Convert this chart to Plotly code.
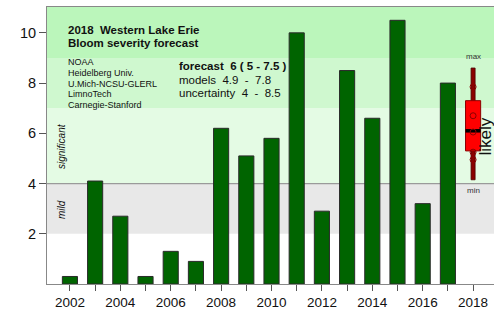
import plotly.graph_objects as go

years = list(range(2002, 2018))
severity = [0.3, 4.1, 2.7, 0.3, 1.3, 0.9, 6.2, 5.1, 5.8, 10.0, 2.9, 8.5, 6.6, 10.5, 3.2, 8.0]

forecast_year = 2018
box_q1, box_median, box_q3 = 5.3, 6.1, 7.3
whisker_low, whisker_high = 4.15, 8.6
model_values = [7.85, 6.7, 6.05, 5.25, 4.95]

tick_years = list(range(2002, 2019))
tick_labels = [str(y) if y % 2 == 0 else "" for y in tick_years]
y_ticks = [2, 4, 6, 8, 10]

FONT = "Liberation Sans, Arial, sans-serif"

fig = go.Figure()

# bands
bands = [(0, 2, "#ffffff"), (2, 4, "#e8e8e8"), (4, 7, "#e4fbe4"), (7, 9, "#cff8cf"), (9, 11.03, "#bbf6bb")]
for y0, y1, c in bands:
    fig.add_shape(type="rect", xref="paper", yref="y", x0=0, x1=1, y0=y0, y1=y1,
                  fillcolor=c, line_width=0, layer="below")
fig.add_shape(type="line", xref="paper", yref="y", x0=0, x1=1, y0=4, y1=4,
              line=dict(color="#9a9a9a", width=1.2), layer="below")

fig.add_trace(go.Bar(x=years, y=severity, width=0.6,
                     marker=dict(color="#006400", line=dict(color="#2a2a2a", width=1)),
                     showlegend=False, hoverinfo="skip"))

# whisker
fig.add_trace(go.Bar(x=[forecast_year], base=[whisker_low], y=[whisker_high - whisker_low], width=0.16,
                     marker=dict(color="#8b0000", line=dict(color="#4a0000", width=0.8)),
                     showlegend=False, hoverinfo="skip"))
# box
fig.add_trace(go.Bar(x=[forecast_year], base=[box_q1], y=[box_q3 - box_q1], width=0.6,
                     marker=dict(color="#ff0000", line=dict(color="#8b0000", width=1)),
                     showlegend=False, hoverinfo="skip"))
# median
fig.add_trace(go.Scatter(x=[forecast_year - 0.3, forecast_year + 0.3], y=[box_median, box_median],
                         mode="lines", line=dict(color="black", width=3.5),
                         showlegend=False, hoverinfo="skip"))
# model points
fig.add_trace(go.Scatter(x=[forecast_year] * len(model_values), y=model_values, mode="markers",
                         marker=dict(symbol="circle-open", size=6, color="#8b0000", line=dict(width=1)),
                         showlegend=False, hoverinfo="skip", cliponaxis=False))

ann = []
def add(text, x, y, size, xanchor="left", bold=False, italic=False, angle=0, color="#111"):
    t = text
    if bold:
        t = "<b>" + t + "</b>"
    if italic:
        t = "<i>" + t + "</i>"
    ann.append(dict(text=t, x=x, y=y, xref="x", yref="y", xanchor=xanchor, yanchor="middle",
                    showarrow=False, textangle=angle, borderpad=0,
                    font=dict(size=size, color=color, family=FONT)))

add("2018  Western Lake Erie", 2001.88, 10.13, 11.5, bold=True)
add("Bloom severity forecast", 2001.88, 9.61, 11.5, bold=True)
orgs = ["NOAA", "Heidelberg Univ.", "U.Mich-NCSU-GLERL", "LimnoTech", "Carnegie-Stanford"]
org_y = [8.83, 8.41, 7.97, 7.55, 7.14]
for o, yy in zip(orgs, org_y):
    add(o, 2001.88, yy, 9)
add("forecast  6 ( 5 - 7.5 )", 2006.29, 8.70, 11.5, bold=True)
add("models  4.9  -  7.8", 2006.29, 8.13, 11.5)
add("uncertainty  4  -  8.5", 2006.29, 7.61, 11.5)
add("significant", 2001.66, 5.51, 10, xanchor="center", italic=True, angle=-90)
add("mild", 2001.66, 2.96, 10, xanchor="center", italic=True, angle=-90)
add("max", 2018, 9.05, 8, xanchor="center", color="#333")
add("min", 2018, 3.72, 8, xanchor="center", color="#333")
add("likely", 2018.5, 5.86, 17, xanchor="center", angle=-90)

fig.update_layout(
    width=494, height=311,
    margin=dict(l=47, r=0, t=7, b=27),
    paper_bgcolor="white", plot_bgcolor="white",
    barmode="overlay",
    annotations=ann,
    font=dict(family=FONT, color="#111"),
    xaxis=dict(range=[2001.09, 2018.83], tickvals=tick_years, ticktext=tick_labels,
               ticks="outside", ticklen=6, tickcolor="#555", showline=True, linecolor="#888",
               mirror=True, showgrid=False, zeroline=False, tickfont=dict(size=13.5),
               automargin=False),
    yaxis=dict(range=[0, 11.03], tickvals=y_ticks, ticks="outside", ticklen=7, tickcolor="#555",
               showline=True, linecolor="#888", showgrid=False, zeroline=False,
               tickfont=dict(size=14.5), automargin=False),
)

fig.write_html("out.html", config={"displayModeBar": False},
               post_script="document.body.style.margin='0';document.body.style.overflow='hidden';")
